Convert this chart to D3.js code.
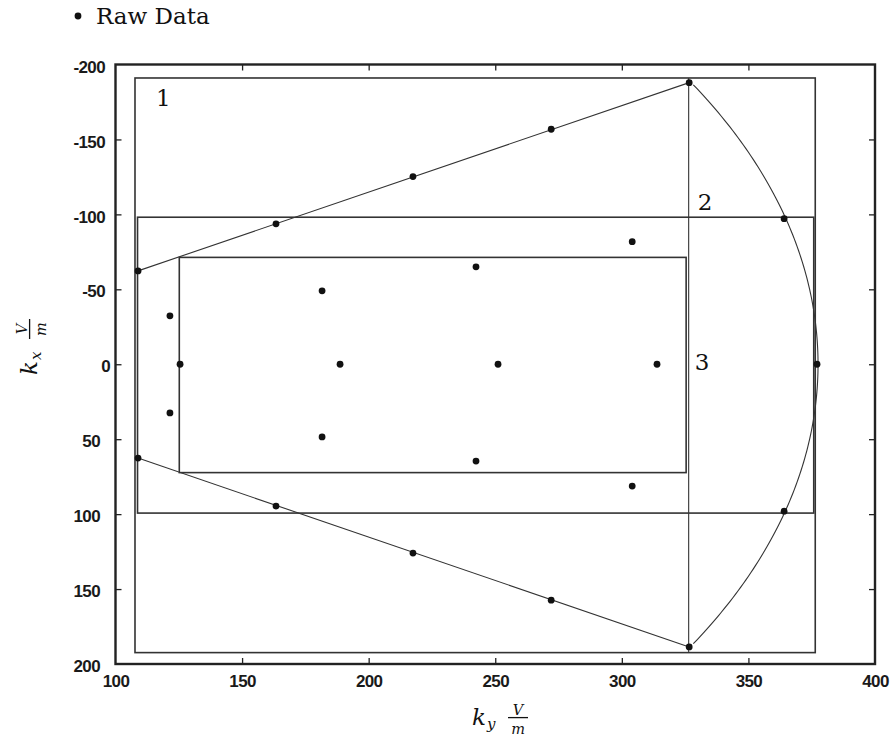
<!DOCTYPE html>
<html>
<head>
<meta charset="utf-8">
<script src="https://cdn.jsdelivr.net/npm/d3@7"></script>
<style>
  body { margin: 0; background: #fff; }
  svg { display: block; }
</style>
</head>
<body>
<svg id="chart"></svg>
<script>
// raw sample points (ky, kx)
const rawKy = [108.9, 163.4, 217.5, 272.1, 326.6,
               108.9, 163.4, 217.5, 272.1, 326.6,
               121.5, 181.6, 242.4, 304.1, 364.1,
               121.5, 181.6, 242.4, 304.1, 364.1,
               125.5, 188.7, 251.1, 313.9, 377.1];
const rawKx = [-62.3, -93.7, -125.2, -156.8, -187.9,
               62.6, 94.6, 126.0, 157.4, 188.6,
               -32.3, -49.0, -65.0, -81.8, -97.1,
               32.5, 48.5, 64.6, 81.3, 98.0,
               0, 0, 0, 0, 0];

// region rectangles [kyMin, kyMax, kxMin, kxMax]
const regionNames = ["1", "2", "3"];
const regionBoxes = [[107.7, 376.4, -191, 192.4],
                     [108.7, 375.8, -98.1, 99.3],
                     [125.2, 325.4, -71.3, 72.3]];
// label anchors (ky, kx)
const labelKy = [116, 330, 328.8];
const labelKx = [-178, -108.5, -2];

// outer boundary: upper and lower edge, the cut line and the arc
const edgeKy = [108.9, 326.6];
const upperKx = [-62.3, -187.9];
const lowerKx = [62.6, 188.6];
const cutKy = 326.4;
const arcRadius = 377.5;
const arcHalfAngle = 29.6; // degrees

const xTicks = [100, 150, 200, 250, 300, 350, 400];
const yTicks = [-200, -150, -100, -50, 0, 50, 100, 150, 200];

const width = 892, height = 738;
const margin = {top: 64.5, right: 17, bottom: 74, left: 115.5};

const svg = d3.select("#chart").attr("width", width).attr("height", height);

const x = d3.scaleLinear().domain([100, 400]).range([margin.left, width - margin.right]);
const y = d3.scaleLinear().domain([-200, 200]).range([margin.top, height - margin.bottom]);

const ink = "#222";
const tickFont = "'Liberation Sans', Arial, sans-serif";
const serif = "'DejaVu Serif', serif";

// region boxes
svg.append("g").selectAll("rect")
    .data(regionBoxes)
    .join("rect")
    .attr("x", d => x(d[0]))
    .attr("y", d => y(d[2]))
    .attr("width", d => x(d[1]) - x(d[0]))
    .attr("height", d => y(d[3]) - y(d[2]))
    .attr("fill", "none")
    .attr("stroke", "#333")
    .attr("stroke-width", 1.6);

// boundary lines
const line = d3.line().x(d => x(d[0])).y(d => y(d[1]));
[upperKx, lowerKx].forEach(kx => {
    svg.append("path")
        .attr("d", line(edgeKy.map((k, i) => [k, kx[i]])))
        .attr("fill", "none")
        .attr("stroke", "#333")
        .attr("stroke-width", 1.1);
});
svg.append("line")
    .attr("x1", x(cutKy)).attr("x2", x(cutKy))
    .attr("y1", y(regionBoxes[0][2])).attr("y2", y(regionBoxes[0][3]))
    .attr("stroke", "#333").attr("stroke-width", 1.1);

// arc of constant radius
const arcPts = d3.range(-arcHalfAngle, arcHalfAngle + 0.01, 0.4).map(a => {
    const t = a * Math.PI / 180;
    return [arcRadius * Math.cos(t), arcRadius * Math.sin(t)];
});
svg.append("path")
    .attr("d", line(arcPts))
    .attr("fill", "none")
    .attr("stroke", "#333")
    .attr("stroke-width", 1.1);

// raw points
svg.append("g").selectAll("circle")
    .data(rawKy.map((k, i) => [k, rawKx[i]]))
    .join("circle")
    .attr("cx", d => x(d[0]))
    .attr("cy", d => y(d[1]))
    .attr("r", 3.4)
    .attr("fill", "#111");

// region labels
svg.append("g").selectAll("text")
    .data(regionNames)
    .join("text")
    .attr("x", (d, i) => x(labelKy[i]))
    .attr("y", (d, i) => y(labelKx[i]))
    .attr("dy", "0.36em")
    .attr("font-family", serif)
    .attr("font-size", 23)
    .attr("fill", "#111")
    .text(d => d);

// frame + axes (ticks inward on all four sides)
svg.append("rect")
    .attr("x", margin.left).attr("y", margin.top)
    .attr("width", width - margin.left - margin.right)
    .attr("height", height - margin.top - margin.bottom)
    .attr("fill", "none")
    .attr("stroke", ink)
    .attr("stroke-width", 2.4);

const inner = xTicks.slice(1, -1);
const innerY = yTicks.slice(1, -1);

function styleAxis(g) {
    g.select(".domain").remove();
    g.selectAll(".tick line").attr("stroke", ink).attr("stroke-width", 1.3);
    g.selectAll("text")
        .attr("font-family", tickFont)
        .attr("font-weight", "bold")
        .attr("font-size", 17)
        .attr("letter-spacing", -0.6)
        .attr("fill", "#1a1a1a");
}

const plain = d => String(d);

// bottom ticks + labels
const bottom = svg.append("g")
    .attr("transform", `translate(0,${height - margin.bottom})`)
    .call(d3.axisBottom(x).tickValues(xTicks).tickFormat(plain)
        .tickSizeInner(-6).tickSizeOuter(0).tickPadding(10.5))
    .call(styleAxis);
bottom.selectAll(".tick").filter(d => !inner.includes(d)).select("line").remove();

svg.append("g")
    .attr("transform", `translate(0,${margin.top})`)
    .call(d3.axisTop(x).tickValues(inner).tickSizeInner(-6).tickSizeOuter(0).tickFormat(""))
    .call(styleAxis);

const left = svg.append("g")
    .attr("transform", `translate(${margin.left},0)`)
    .call(d3.axisLeft(y).tickValues(yTicks).tickFormat(plain)
        .tickSizeInner(-6).tickSizeOuter(0))
    .call(styleAxis);
left.selectAll(".tick").filter(d => !innerY.includes(d)).select("line").remove();
left.selectAll("text")
    .attr("x", d => d < 0 ? -10.5 : (d > 0 ? -15.5 : -5.5))
    .attr("dy", "0.45em");

svg.append("g")
    .attr("transform", `translate(${width - margin.right},0)`)
    .call(d3.axisRight(y).tickValues(innerY).tickSizeInner(-6).tickSizeOuter(0).tickFormat(""))
    .call(styleAxis);

// axis titles: k_sub  V/m
function axisTitle(g, sub) {
    const t = (tx, ty, size, s, anchor) => g.append("text")
        .attr("x", tx).attr("y", ty)
        .attr("text-anchor", anchor || "start")
        .attr("font-family", serif).attr("font-style", "italic")
        .attr("font-size", size).attr("fill", "#111")
        .text(s);
    t(-28, 0, 23, "k");
    t(-13, 4, 15, sub);
    t(18, -9.8, 14.5, "V", "middle");
    g.append("line")
        .attr("x1", 8).attr("x2", 28)
        .attr("y1", -7.4).attr("y2", -7.4)
        .attr("stroke", "#111").attr("stroke-width", 1.3);
    t(18, 8.6, 14.5, "m", "middle");
}
axisTitle(svg.append("g").attr("transform", "translate(500,725)"), "y");
axisTitle(svg.append("g").attr("transform", "translate(37,347) rotate(-90)"), "x");

// legend
svg.append("circle").attr("cx", 78).attr("cy", 16).attr("r", 3.4).attr("fill", "#111");
svg.append("text")
    .attr("x", 96).attr("y", 23.5)
    .attr("font-family", serif)
    .attr("font-size", 23)
    .attr("fill", "#111")
    .text("Raw Data");
</script>
</body>
</html>
